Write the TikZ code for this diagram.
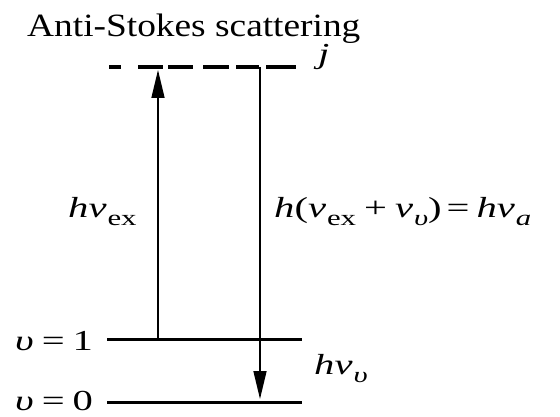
\documentclass[tikz,border=0pt]{standalone}
\usepackage{fontspec}
\setmainfont{Liberation Serif}
\newfontfamily\wideserif[FakeStretch=1.15]{Liberation Serif}
\newfontfamily\widermath[FakeStretch=1.4]{Liberation Serif}
\usetikzlibrary{arrows.meta}
\newcommand{\gnu}{\textit{ν}}
\newcommand{\gup}{\textit{υ}}
\newcommand{\lsub}[1]{\hspace{1pt}\raisebox{-0.28em}{\fontsize{22}{22}\selectfont #1}}
\begin{document}
\begin{tikzpicture}[x=1pt,y=1pt,
  level/.style={line width=3pt},
  virt/.style={line width=3.5pt, dash pattern=on 12pt off 17pt on 25pt off 5pt on 25pt off 10pt on 26pt off 7pt on 23pt off 7pt on 30pt off 40pt},
  trans/.style={line width=1.6pt, -{Triangle[length=28pt,width=13pt]}},
  lab/.style={font=\widermath\fontsize{29}{32}\selectfont, inner sep=0pt},
  ttl/.style={font=\wideserif\fontsize{32.5}{40}\selectfont, inner sep=0pt}]
\useasboundingbox (0,0) rectangle (560,416);
\coordinate (j0) at (109,349); \coordinate (j1) at (300,349);
\coordinate (a0) at (107,77);  \coordinate (a1) at (302,77);
\coordinate (b0) at (107,14);  \coordinate (b1) at (302,14);
\coordinate (up0) at (158,77); \coordinate (up1) at (158,346);
\coordinate (dn0) at (260,349); \coordinate (dn1) at (260,17);
\draw[virt] (j0) -- (j1);
\draw[level] (a0) -- (a1);
\draw[level] (b0) -- (b1);
\draw[trans] (up0) -- (up1);
\draw[trans] (dn0) -- (dn1);
\node[ttl, anchor=base west] (title) at (27,379) {Anti-Stokes scattering};
\node[lab, anchor=base west] (jl) at (318,352) {\textit{j}};
\node[lab, anchor=base west] (v1) at (15,66) {\gup\hspace{8pt}=\hspace{8pt}1};
\node[lab, anchor=base west] (v0) at (15,6) {\gup\hspace{8pt}=\hspace{8pt}0};
\node[lab, anchor=base west] (ex) at (68,199) {\textit{h}\gnu\lsub{ex}};
\node[lab, anchor=base west] (as) at (274,199) {\textit{h}(\gnu\lsub{ex}\hspace{8pt}+\hspace{8pt}\gnu\lsub{\gup})\hspace{5pt}=\hspace{7pt}\textit{h}\gnu\lsub{\textit{a}}};
\node[lab, anchor=base west] (vv) at (314,42) {\textit{h}\gnu\lsub{\gup}};
\end{tikzpicture}
\end{document}
